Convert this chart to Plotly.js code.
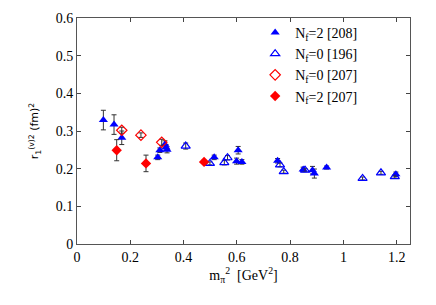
<!DOCTYPE html>
<html><head><meta charset="utf-8">
<script src="https://cdn.plot.ly/plotly-3.0.1.min.js"></script>
<style>body{margin:0;background:#fff}#chart{width:436px;height:305px}</style>
</head><body><div id="chart"></div>
<script>
// N_f=2 [208] (filled blue triangles)
const nf2_208_x = [0.099, 0.139, 0.168, 0.303, 0.311, 0.330, 0.334, 0.338, 0.515, 0.599, 0.605, 0.619, 0.753, 0.849, 0.884, 0.891, 0.937, 1.197];
const nf2_208_y = [0.329, 0.317, 0.282, 0.230, 0.249, 0.264, 0.256, 0.250, 0.230, 0.220, 0.249, 0.218, 0.221, 0.198, 0.196, 0.187, 0.203, 0.185];
const nf2_208_e = [0.026, 0.026, 0.018, 0.006, 0.006, 0.010, 0.008, 0.008, 0.006, 0.008, 0.010, 0.006, 0.006, 0.006, 0.010, 0.012, 0.004, 0.006];
// N_f=0 [196] (open blue triangles)
const nf0_196_x = [0.408, 0.499, 0.553, 0.565, 0.762, 0.776, 0.856, 1.072, 1.141, 1.193];
const nf0_196_y = [0.260, 0.214, 0.216, 0.229, 0.210, 0.192, 0.196, 0.174, 0.189, 0.179];
const nf0_196_e = [0.008, 0.004, 0.006, 0.006, 0.005, 0.004, 0.004, 0.004, 0.004, 0.004];
// N_f=0 [207] (open red diamonds)
const nf0_207_x = [0.168, 0.240, 0.318];
const nf0_207_y = [0.302, 0.289, 0.270];
const nf0_207_e = [0.008, 0.006, 0.008];
// N_f=2 [207] (filled red diamonds)
const nf2_207_x = [0.149, 0.259, 0.477];
const nf2_207_y = [0.249, 0.214, 0.218];
const nf2_207_e = [0.028, 0.022, 0.004];

const ebar = (arr) => ({type:'data', array:arr, visible:true, color:'#333', thickness:1, width:2.5});
const traces = [
  {x:nf2_208_x, y:nf2_208_y, error_y:ebar(nf2_208_e), mode:'markers', type:'scatter', name:'N<sub>f</sub>=2 [208]',
   marker:{symbol:'triangle-up', size:8, color:'#0000ff'}},
  {x:nf0_196_x, y:nf0_196_y, error_y:ebar(nf0_196_e), mode:'markers', type:'scatter', name:'N<sub>f</sub>=0 [196]',
   marker:{symbol:'triangle-up-open', size:8, color:'#0000ff', line:{width:1.2}}},
  {x:nf0_207_x, y:nf0_207_y, error_y:ebar(nf0_207_e), mode:'markers', type:'scatter', name:'N<sub>f</sub>=0 [207]',
   marker:{symbol:'diamond-open', size:8, color:'#ff0000', line:{width:1.2}}},
  {x:nf2_207_x, y:nf2_207_y, error_y:ebar(nf2_207_e), mode:'markers', type:'scatter', name:'N<sub>f</sub>=2 [207]',
   marker:{symbol:'diamond', size:8, color:'#ff0000'}}
];
const axfont = {family:'Liberation Serif, Times New Roman, serif', size:14, color:'#000'};
const layout = {
  width:436, height:305,
  margin:{l:77, r:26, t:18, b:61},
  paper_bgcolor:'#fff', plot_bgcolor:'#fff',
  showlegend:true,
  legend:{x:0.535, y:1.005, xanchor:'left', yanchor:'top', bgcolor:'rgba(0,0,0,0)',
    font:{family:'Liberation Serif, Times New Roman, serif', size:14, color:'#000'}, tracegroupgap:0},
  xaxis:{range:[0,1.25], tickvals:[0,0.2,0.4,0.6,0.8,1,1.2], ticktext:['0','0.2','0.4','0.6','0.8','1','1.2'],
    ticks:'inside', ticklen:4, tickcolor:'#444', showline:true, linecolor:'#555', linewidth:1, mirror:'ticks',
    showgrid:false, zeroline:false, tickfont:axfont,
    title:{text:'m<sub>π</sub><sup>2</sup>  [GeV<sup>2</sup>]', font:axfont, standoff:4}},
  yaxis:{range:[0,0.6], tickvals:[0,0.1,0.2,0.3,0.4,0.5,0.6], ticktext:['0','0.1','0.2','0.3','0.4','0.5','0.6'],
    ticks:'inside', ticklen:4, tickcolor:'#444', showline:true, linecolor:'#555', linewidth:1, mirror:'ticks',
    showgrid:false, zeroline:false, tickfont:axfont,
    title:{text:'r<sub>1</sub><sup>(v)2</sup> (fm)<sup>2</sup>', font:{family:'DejaVu Sans, sans-serif', size:11, color:'#000'}, standoff:14}}
};
Plotly.newPlot('chart', traces, layout, {displayModeBar:false, staticPlot:true});
</script></body></html>
